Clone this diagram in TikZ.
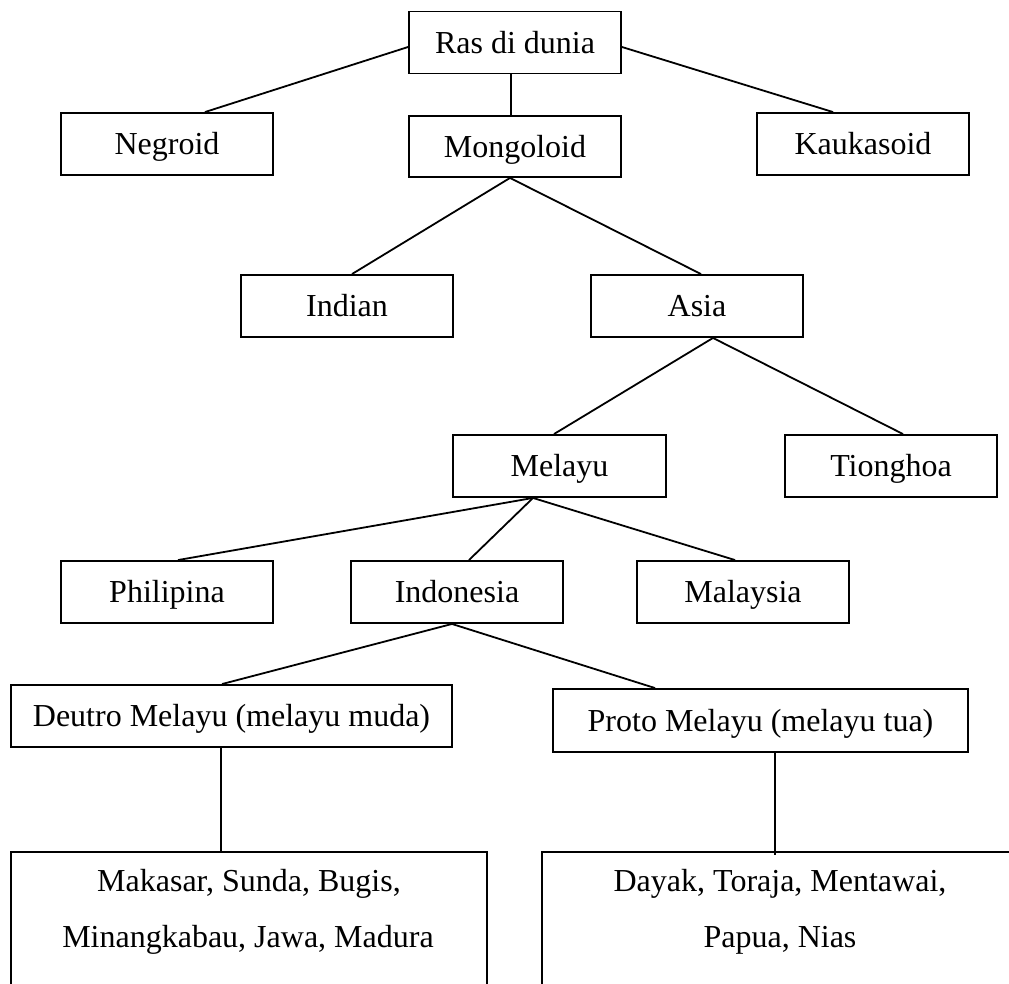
\documentclass[tikz,border=0pt]{standalone}
\usepackage{fontspec}
\setmainfont{Liberation Serif}
\begin{document}
\begin{tikzpicture}[x=1pt,y=-1pt,
  box/.style={draw, line width=1.9pt, inner sep=0pt, minimum width=212pt, minimum height=62pt,
    text height=21.2pt, text depth=0pt, font=\fontsize{32}{38}\selectfont},
  openbox/.style={draw=none, inner sep=0pt, minimum width=476pt, minimum height=140pt},
  txt/.style={inner sep=0pt, anchor=base, font=\fontsize{32}{38}\selectfont},
  link/.style={line width=1.8pt},
  vlink/.style={line width=1.5pt}]
\useasboundingbox (0,0) rectangle (1009,984);
\clip (0,0) rectangle (1009,984);

\node[box] (ras) at (515,42.5) {Ras di dunia};
\node[box] (negroid) at (167,144) {Negroid};
\node[box, minimum height=61pt] (mongoloid) at (515,146.5) {Mongoloid};
\node[box] (kaukasoid) at (863,144) {Kaukasoid};
\node[box] (indian) at (347,306) {Indian};
\node[box] (asia) at (697,306) {Asia};
\node[box, minimum width=213pt] (melayu) at (559.5,466) {Melayu};
\node[box] (tionghoa) at (891,466) {Tionghoa};
\node[box] (philipina) at (167,592) {Philipina};
\node[box] (indonesia) at (457,592) {Indonesia};
\node[box] (malaysia) at (743,592) {Malaysia};
\node[box, minimum width=441pt] (deutro) at (231.5,716) {Deutro Melayu (melayu muda)};
\node[box, minimum width=415pt, minimum height=63pt] (proto) at (760.5,720.5) {Proto Melayu (melayu tua)};

\node[openbox] (bl) at (249,922) {};
\node[openbox] (br) at (780,922) {};
\draw[line width=1.9pt] (bl.south west) -- (bl.north west) -- (bl.north east) -- (bl.south east);
\draw[line width=1.9pt] (br.south west) -- (br.north west) -- (br.north east) -- (br.south east);
\node[txt] (bl1) at (249,891) {Makasar, Sunda, Bugis,};
\node[txt] (bl2) at (248,947) {Minangkabau, Jawa, Madura};
\node[txt] (br1) at (780,891) {Dayak, Toraja, Mentawai,};
\node[txt] (br2) at (780,947) {Papua, Nias};

\draw[link] ([yshift=-4.5pt]ras.west) -- ([xshift=38pt]negroid.north);
\draw[link] ([xshift=-4pt]ras.south) -- ([xshift=-4pt]mongoloid.north);
\draw[link] ([yshift=-4.5pt]ras.east) -- ([xshift=-30pt]kaukasoid.north);
\draw[link] ([xshift=-5pt]mongoloid.south) -- ([xshift=5pt]indian.north);
\draw[link] ([xshift=-5pt]mongoloid.south) -- ([xshift=4pt]asia.north);
\draw[link] ([xshift=16pt]asia.south) -- ([xshift=-5.5pt]melayu.north);
\draw[link] ([xshift=16pt]asia.south) -- ([xshift=12pt]tionghoa.north);
\draw[link] ([xshift=-26.5pt]melayu.south) -- ([xshift=11pt]philipina.north);
\draw[link] ([xshift=-26.5pt]melayu.south) -- ([xshift=12pt]indonesia.north);
\draw[link] ([xshift=-26.5pt]melayu.south) -- ([xshift=-8pt]malaysia.north);
\draw[link] ([xshift=-5pt]indonesia.south) -- ([xshift=-9.5pt]deutro.north);
\draw[link] ([xshift=-5pt]indonesia.south) -- ([xshift=-105.5pt]proto.north);
\draw[vlink] ([xshift=-10.5pt]deutro.south) -- ([xshift=-10.5pt]deutro.south |- bl.north);
\draw[vlink] ([xshift=14.5pt]proto.south) -- ([xshift=14.5pt,yshift=-3pt]proto.south |- br.north);
\end{tikzpicture}
\end{document}
